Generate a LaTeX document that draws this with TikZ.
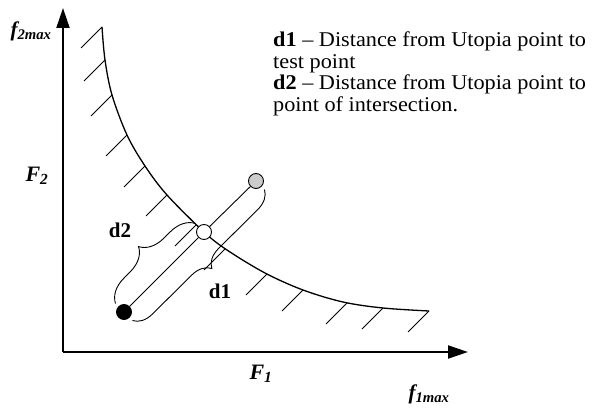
\documentclass[tikz,border=0pt]{standalone}
\usepackage{fontspec}
\setmainfont{Liberation Serif}
\usetikzlibrary{arrows.meta,calc,decorations.pathreplacing}
\begin{document}
\begin{tikzpicture}[x=1pt,y=-1pt,
  axis/.style={line width=2pt,-{Triangle[length=20pt,width=13pt]}},
  frontier/.style={line width=1.3pt},
  hatch/.style={line width=0.8pt},
  thin line/.style={line width=0.9pt},
  dot/.style={circle,draw,line width=0.9pt,minimum size=15pt,inner sep=0pt},
  bracestyle/.style={line width=0.9pt,decorate},
  lbl/.style={inner sep=0pt,font=\fontsize{21}{23}\selectfont\bfseries},
  axlbl/.style={inner sep=0pt,font=\fontsize{22}{24}\selectfont\bfseries\itshape},
  maxlbl/.style={inner sep=0pt,font=\fontsize{21}{24}\selectfont\bfseries\itshape}
]
\useasboundingbox (0,0) rectangle (596,409);
% axes
\coordinate (o) at (63,352);
\coordinate (ytop) at (63,8);
\coordinate (xend) at (468,352);
\draw[axis] (o) -- (ytop);
\draw[axis] (o) -- (xend);
% frontier curve
\draw[frontier] plot[smooth,tension=0.55] coordinates {(102,27) (105,60) (112,95) (127,135) (145,166) (167,195) (204,232) (227,250) (265,273) (303,290) (343,302) (383,308) (429,311)};
% hatches
\foreach \x/\y in {102/27,105/60,112/95,127/135,145/166,167/195,196/225,225/249,267/274,303/290,347/303,383/308,429/311}
  \draw[hatch] (\x,\y) -- ++(-21,21);
% points
\node[dot,fill=black] (u) at (124,312) {};
\node[dot,fill=white] (i) at (204,232) {};
\node[dot,fill=gray!40] (t) at (256,181) {};
\draw[thin line] (u) -- (i) -- (t);
% braces
\draw[bracestyle,decoration={brace,amplitude=24pt}]
  ($(u.center)!12pt!90:(i.center)$) -- ($(i.center)!12pt!-90:(u.center)$);
\draw[bracestyle,decoration={brace,amplitude=19pt}]
  ($(t.center)!12pt!90:(u.center)$) -- ($(u.center)!12pt!-90:(t.center)$);
\node[lbl] (d2) at (120,230) {d2};
\node[lbl] (d1) at (220,291) {d1};
% axis labels
\node[axlbl] (F2) at (37,176) {F\textsubscript{2}};
\node[axlbl] (F1) at (261,374) {F\textsubscript{1}};
\node[maxlbl] (f2) at (31,31) {f\textsubscript{2max}};
\node[maxlbl] (f1) at (429,394) {f\textsubscript{1max}};
% legend
\node[anchor=north west,inner sep=0pt,align=left,font=\fontsize{21}{21.5}\selectfont\addfontfeature{FakeStretch=1.06}] (leg) at (273,32)
  {\textbf{d1} – Distance from Utopia point to\\test point\\\textbf{d2} – Distance from Utopia point to\\point of intersection.};
\end{tikzpicture}
\end{document}
